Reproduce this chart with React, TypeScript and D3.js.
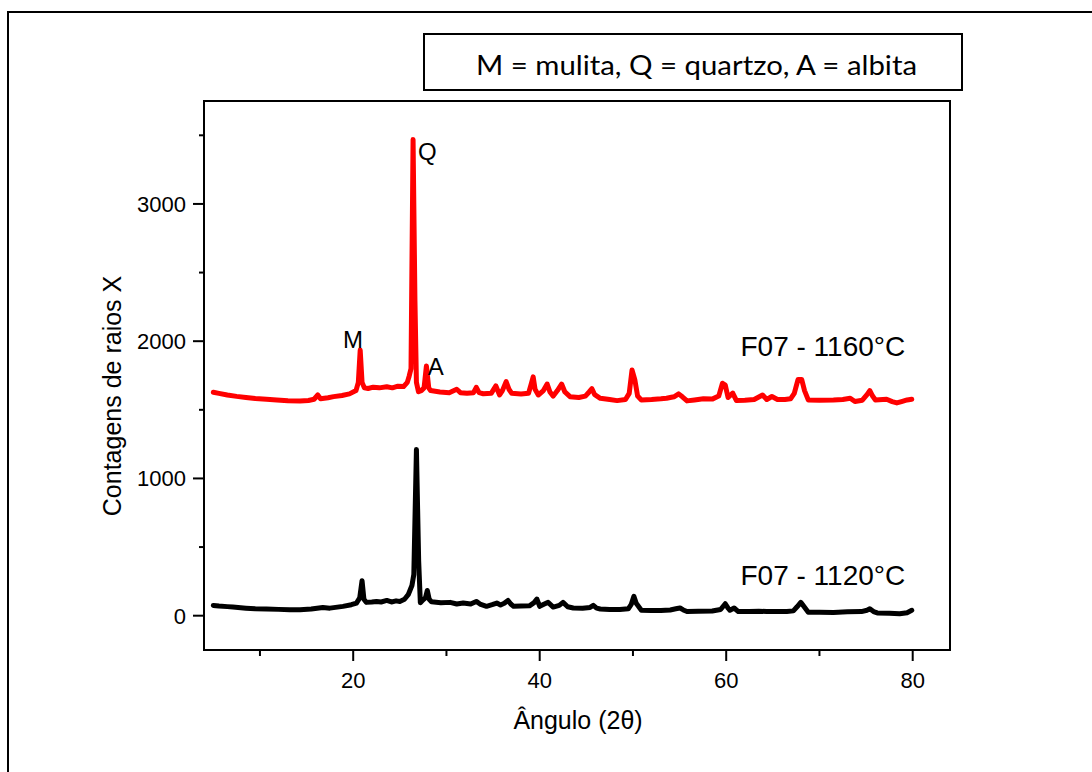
import React from 'react';
import * as d3 from 'd3';

// XRD pattern, sample fired at 1160 °C (angle 2θ, counts)
const redSeries: [number, number][] = [
  [5.0, 1628], [5.6, 1620], [6.5, 1608], [7.5, 1598], [8.5, 1590], [9.5, 1582], [10.7, 1577],
  [11.8, 1572], [13.0, 1566], [14.3, 1565], [15.2, 1568], [15.8, 1577], [16.2, 1608], [16.5, 1580],
  [17.3, 1588], [17.9, 1596], [18.8, 1604], [19.6, 1616], [20.3, 1640], [20.55, 1700], [20.75, 1935],
  [20.95, 1700], [21.2, 1660], [21.6, 1655], [22.15, 1665], [22.8, 1660], [23.6, 1668], [24.2, 1660],
  [24.8, 1672], [25.4, 1669], [25.8, 1700], [26.0, 1745], [26.2, 1800], [26.42, 3470], [26.62, 2300],
  [26.78, 1700], [27.0, 1632], [27.3, 1640], [27.6, 1660], [27.85, 1820], [28.1, 1660], [28.3, 1640],
  [29.3, 1630], [30.3, 1625], [31.1, 1650], [31.5, 1625], [32.2, 1620], [32.9, 1625], [33.2, 1664],
  [33.5, 1625], [33.95, 1617], [34.8, 1620], [35.3, 1674], [35.7, 1608], [36.0, 1640], [36.4, 1705],
  [36.7, 1650], [37.0, 1620], [38.0, 1615], [38.8, 1620], [39.1, 1690], [39.3, 1740], [39.5, 1650],
  [39.85, 1608], [40.4, 1640], [40.8, 1688], [41.1, 1630], [41.45, 1600], [41.9, 1640], [42.35, 1688],
  [42.7, 1630], [43.25, 1596], [44.2, 1590], [44.9, 1600], [45.3, 1630], [45.6, 1654], [45.9, 1610],
  [46.5, 1584], [47.5, 1575], [48.3, 1567], [49.2, 1575], [49.6, 1620], [49.9, 1790], [50.2, 1720],
  [50.5, 1600], [50.9, 1572], [52.0, 1575], [53.0, 1580], [53.6, 1584], [54.4, 1595], [54.9, 1616],
  [55.3, 1595], [55.8, 1565], [56.6, 1572], [57.55, 1580], [58.5, 1578], [59.2, 1600], [59.6, 1694],
  [59.9, 1680], [60.2, 1590], [60.7, 1622], [61.1, 1567], [62.0, 1570], [63.0, 1575], [63.9, 1608],
  [64.35, 1575], [64.9, 1597], [65.5, 1575], [66.3, 1575], [66.9, 1580], [67.3, 1620], [67.7, 1720],
  [68.1, 1720], [68.4, 1640], [68.8, 1572], [70.0, 1570], [71.5, 1572], [72.5, 1575], [73.3, 1584],
  [73.8, 1560], [74.6, 1570], [75.1, 1610], [75.4, 1640], [75.7, 1600], [76.0, 1572], [77.2, 1577],
  [77.8, 1560], [78.3, 1550], [78.8, 1560], [79.4, 1572], [79.9, 1577],
];

// XRD pattern, sample fired at 1120 °C (angle 2θ, counts)
const blackSeries: [number, number][] = [
  [5.0, 75], [5.6, 70], [6.5, 66], [7.1, 63], [8.5, 55], [9.5, 50], [10.7, 49], [12.0, 46], [13.2, 44],
  [14.3, 44], [15.5, 48], [16.75, 60], [17.5, 55], [18.9, 68], [19.8, 80], [20.35, 92], [20.7, 130],
  [20.95, 255], [21.15, 120], [21.4, 97], [22.0, 100], [22.5, 104], [23.0, 100], [23.6, 111], [24.1, 100],
  [24.6, 108], [25.0, 104], [25.5, 120], [25.9, 153], [26.3, 220], [26.5, 300], [26.78, 1210], [27.02, 400],
  [27.2, 95], [27.5, 116], [27.75, 130], [27.95, 184], [28.15, 120], [28.4, 101], [29.4, 95], [30.4, 97],
  [31.1, 85], [31.8, 92], [32.6, 85], [33.2, 104], [33.6, 85], [34.3, 68], [34.9, 80], [35.4, 92],
  [35.8, 78], [36.2, 90], [36.6, 111], [36.9, 85], [37.2, 68], [38.0, 70], [38.9, 72], [39.4, 95],
  [39.7, 121], [40.0, 68], [40.5, 85], [40.9, 97], [41.45, 63], [42.1, 75], [42.5, 97], [43.0, 65],
  [43.6, 56], [44.6, 55], [45.4, 60], [45.75, 75], [46.1, 55], [46.5, 49], [47.5, 45], [48.6, 45],
  [49.5, 50], [49.8, 80], [50.1, 141], [50.35, 90], [50.9, 40], [52.0, 38], [53.0, 38], [54.0, 42],
  [54.6, 50], [55.05, 56], [55.4, 42], [55.8, 30], [57.0, 32], [58.5, 34], [59.4, 45], [59.9, 87],
  [60.2, 55], [60.4, 40], [60.85, 56], [61.3, 30], [62.5, 30], [63.5, 32], [64.35, 31], [65.5, 30],
  [66.5, 30], [67.2, 35], [67.6, 65], [68.0, 97], [68.3, 70], [68.8, 25], [70.0, 25], [71.5, 24],
  [73.0, 28], [74.5, 30], [75.1, 40], [75.4, 50], [75.8, 30], [76.2, 20], [77.5, 18], [78.6, 14],
  [79.4, 22], [79.9, 39],
];

const xMajorTicks = [20, 40, 60, 80];
const xMinorTicks = [10, 30, 50, 70];
const yMajorTicks = [0, 1000, 2000, 3000];
const yMinorTicks = [500, 1500, 2500, 3500];

const peakLabels = [
  { text: 'M', angle: 18.9, count: 1950 },
  { text: 'Q', angle: 26.95, count: 3320 },
  { text: 'A', angle: 28.0, count: 1754 },
];
const seriesLabels = [
  { text: 'F07 - 1160°C', angle: 79.2, count: 1892 },
  { text: 'F07 - 1120°C', angle: 79.2, count: 224 },
];
const legendText = 'M = mulita, Q = quartzo, A = albita';
const xTitle = 'Ângulo (2θ)';
const yTitle = 'Contagens de raios X';

const W = 1092;
const H = 772;
const plot = { left: 204, right: 950, top: 101, bottom: 650 };
const ARIAL = '"Liberation Sans", Arial, sans-serif';

export default function App() {
  const x = d3.scaleLinear().domain([4, 84]).range([plot.left, plot.right]);
  const y = d3.scaleLinear().domain([-250, 3750]).range([plot.bottom, plot.top]);
  const line = d3
    .line<[number, number]>()
    .x((d) => x(d[0]))
    .y((d) => y(d[1]));

  return (
    <svg
      width={W}
      height={H}
      style={{ position: 'absolute', left: 0, top: 0, background: '#fff' }}
    >
      <rect x={0} y={0} width={W} height={H} fill="#fff" />
      {/* outer frame */}
      <path d={`M8,${H} L8,12 L${W},12`} fill="none" stroke="#000" strokeWidth={2} />

      {/* legend box */}
      <rect x={424} y={34} width={538} height={56} fill="#fff" stroke="#000" strokeWidth={2} />
      <text
        x={476}
        y={75}
        textLength={441}
        lengthAdjust="spacingAndGlyphs"
        fontFamily="Lato, 'Open Sans', sans-serif"
        fontSize={27}
        fill="#000"
      >
        {legendText}
      </text>

      {/* series */}
      <path d={line(redSeries) || ''} fill="none" stroke="#ff0000" strokeWidth={5} strokeLinejoin="round" strokeLinecap="round" />
      <path d={line(blackSeries) || ''} fill="none" stroke="#000" strokeWidth={5} strokeLinejoin="round" strokeLinecap="round" />

      {/* plot frame */}
      <rect
        x={plot.left}
        y={plot.top}
        width={plot.right - plot.left}
        height={plot.bottom - plot.top}
        fill="none"
        stroke="#000"
        strokeWidth={2}
      />

      {/* x ticks */}
      {xMajorTicks.map((t) => (
        <g key={'xm' + t}>
          <line x1={x(t)} x2={x(t)} y1={plot.bottom} y2={plot.bottom + 11} stroke="#000" strokeWidth={2} />
          <text x={x(t)} y={688} textAnchor="middle" fontFamily={ARIAL} fontSize={22} fill="#000">
            {t}
          </text>
        </g>
      ))}
      {xMinorTicks.map((t) => (
        <line key={'xn' + t} x1={x(t)} x2={x(t)} y1={plot.bottom} y2={plot.bottom + 6} stroke="#000" strokeWidth={2} />
      ))}

      {/* y ticks */}
      {yMajorTicks.map((t) => (
        <g key={'ym' + t}>
          <line x1={plot.left - 11} x2={plot.left} y1={y(t)} y2={y(t)} stroke="#000" strokeWidth={2} />
          <text x={186} y={y(t)} dy="0.36em" textAnchor="end" fontFamily={ARIAL} fontSize={22} fill="#000">
            {t}
          </text>
        </g>
      ))}
      {yMinorTicks.map((t) => (
        <line key={'yn' + t} x1={plot.left - 5} x2={plot.left} y1={y(t)} y2={y(t)} stroke="#000" strokeWidth={2} />
      ))}

      {/* peak labels */}
      {peakLabels.map((p) => (
        <text key={p.text} x={x(p.angle)} y={y(p.count)} fontFamily={ARIAL} fontSize={24} fill="#000">
          {p.text}
        </text>
      ))}

      {/* series labels */}
      {seriesLabels.map((s) => (
        <text key={s.text} x={x(s.angle)} y={y(s.count)} textAnchor="end" fontFamily={ARIAL} fontSize={28} fill="#000">
          {s.text}
        </text>
      ))}

      {/* axis titles */}
      <text x={578} y={729} textAnchor="middle" fontFamily={ARIAL} fontSize={25} fill="#000">
        {xTitle}
      </text>
      <text
        transform={`translate(121,396) rotate(-90)`}
        textAnchor="middle"
        fontFamily={ARIAL}
        fontSize={25}
        fill="#000"
      >
        {yTitle}
      </text>
    </svg>
  );
}
